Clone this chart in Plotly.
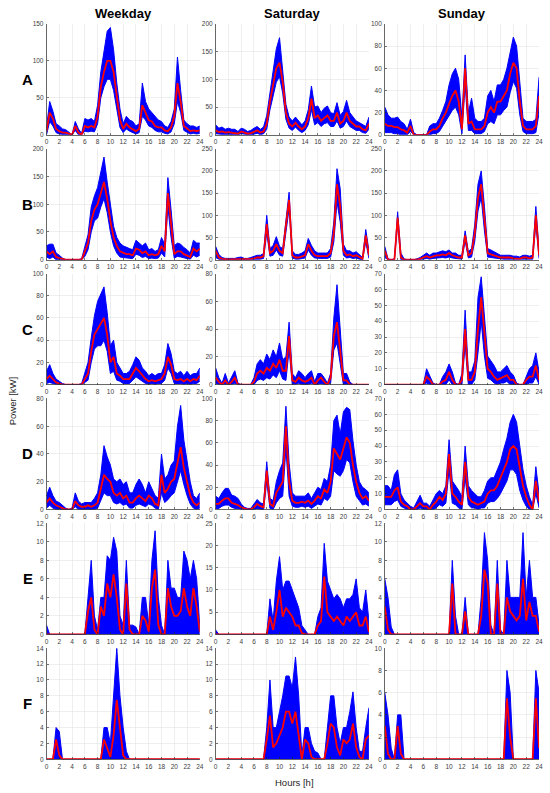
import plotly.graph_objects as go

# ---------------- data ----------------
hours = [0, 0.5, 1, 1.5, 2, 2.5, 3, 3.5, 4, 4.5,
         5, 5.5, 6, 6.5, 7, 7.5, 8, 8.5, 9, 9.5,
         10, 10.5, 11, 11.5, 12, 12.5, 13, 13.5, 14, 14.5,
         15, 15.5, 16, 16.5, 17, 17.5, 18, 18.5, 19, 19.5,
         20, 20.5, 21, 21.5, 22, 22.5, 23, 23.5, 24]
x_ticks = [0, 2, 4, 6, 8, 10, 12, 14, 16, 18, 20, 22, 24]
columns = ["Weekday", "Saturday", "Sunday"]
rows = ["A", "B", "C", "D", "E", "F"]

# ---- A ----
A_wkd_mean = [5,30,22,8,5,3,3,1,0,12, 3,0,12,10,12,10,25,65,85,100, 100,85,50,20,8,15,10,8,5,8, 40,30,20,18,12,10,10,6,5,10, 25,70,45,12,8,5,6,5,6]
A_wkd_up   = [10,45,32,15,12,8,7,3,0,18, 8,2,22,20,22,18,40,85,110,140, 145,115,70,35,15,25,20,18,12,15, 70,45,35,30,25,20,18,12,10,18, 35,105,60,20,15,12,12,10,12]
A_wkd_lo   = [0,18,12,3,1,0,0,0,0,6, 0,0,5,4,5,4,15,50,65,75, 75,60,35,10,3,8,5,3,1,3, 25,20,12,10,6,4,4,2,1,4, 15,45,30,6,3,1,2,1,2]
A_sat_mean = [8,5,6,4,5,4,4,2,6,4, 2,3,5,8,4,6,20,60,90,120, 130,95,40,20,15,22,15,10,15,30, 65,30,35,25,30,35,25,25,40,20, 25,40,25,20,15,15,10,8,20]
A_sat_up   = [18,12,14,10,12,10,10,6,12,10, 6,8,12,15,10,14,35,75,110,155, 175,120,55,32,25,32,25,18,25,45, 88,50,52,40,48,52,40,38,58,35, 42,62,40,32,25,22,18,15,32]
A_sat_lo   = [2,1,1,0,1,0,0,0,2,1, 0,0,1,3,0,2,10,45,70,95, 105,75,28,12,8,14,8,4,8,18, 45,18,22,15,20,22,15,15,25,12, 15,25,15,12,8,8,4,3,10]
A_sun_mean = [10,8,8,7,7,5,4,2,8,0, 0,0,0,0,3,5,5,8,15,20, 28,35,40,30,5,60,10,12,5,5, 5,8,20,25,20,30,30,35,40,55, 65,60,30,8,5,5,5,8,35]
A_sun_up   = [25,18,15,15,16,12,10,5,14,2, 0,0,0,0,8,10,10,15,22,30, 45,55,60,50,15,72,20,33,15,12, 12,15,35,40,30,45,45,50,60,75, 88,80,45,15,12,12,12,14,52]
A_sun_lo   = [2,2,2,1,1,0,0,0,3,0, 0,0,0,0,0,1,1,3,8,12, 18,22,25,18,1,45,4,4,1,1, 1,3,10,12,10,18,18,22,25,38, 48,42,18,3,1,1,1,2,20]
# ---- B ----
B_wkd_mean = [15,10,15,5,3,1,0,0,0,0, 0,0,15,30,70,90,100,120,140,110, 70,40,25,15,12,10,10,8,20,18, 12,15,8,10,8,10,25,15,120,60, 10,15,15,10,8,5,20,15,20]
B_wkd_up   = [25,28,28,12,8,3,0,0,0,0, 0,2,25,45,95,115,130,155,185,140, 100,60,40,30,25,22,20,18,35,30, 25,30,18,20,15,18,40,28,148,90, 25,30,28,22,18,12,35,30,30]
B_wkd_lo   = [5,2,5,0,0,0,0,0,0,0, 0,0,6,18,50,70,75,95,110,85, 50,25,12,5,4,3,3,2,10,8, 4,6,2,3,2,3,12,5,95,40, 3,6,5,3,2,1,8,5,8]
B_sat_mean = [20,5,2,1,1,1,1,1,2,1, 1,2,3,5,5,8,80,15,20,35, 20,15,78,135,10,5,5,8,10,35, 20,10,8,8,8,8,15,60,170,120, 20,10,12,8,10,5,2,55,10]
B_sat_up   = [30,12,5,3,3,3,3,5,6,3, 3,5,8,10,10,14,100,25,32,52, 30,25,88,152,20,12,12,15,20,48, 32,20,15,15,15,15,25,85,205,160, 35,20,20,15,18,12,5,68,20]
B_sat_lo   = [5,1,0,0,0,0,0,0,0,0, 0,0,0,1,1,3,60,8,10,22, 10,8,60,115,4,1,1,3,4,22, 10,4,3,3,3,3,6,40,130,85, 10,4,5,3,4,1,0,40,3]
B_sun_mean = [20,0,0,0,95,5,0,0,0,0, 0,2,5,8,5,8,10,10,12,10, 15,10,8,5,5,55,10,15,60,140, 170,90,15,12,10,8,5,5,5,5, 3,3,2,5,5,3,5,100,10]
B_sun_up   = [30,2,0,2,108,15,2,0,0,0, 2,5,10,15,10,15,15,18,20,18, 22,15,15,10,10,65,18,25,80,170, 200,120,25,22,18,15,10,10,10,10, 8,8,6,10,10,8,10,120,20]
B_sun_lo   = [5,0,0,0,80,0,0,0,0,0, 0,0,1,3,1,3,4,4,5,4, 6,4,3,1,1,42,4,6,42,110, 140,65,6,5,4,3,1,1,1,1, 0,0,0,1,1,0,1,80,3]
# ---- C ----
C_wkd_mean = [5,8,5,2,1,0,0,0,0,0, 0,0,5,10,30,45,50,55,60,45, 20,25,10,8,5,5,5,10,15,12, 8,5,3,4,3,4,5,10,25,18, 5,4,5,3,5,3,5,4,8]
C_wkd_up   = [12,18,10,5,3,1,0,0,0,0, 0,1,10,20,42,62,75,82,88,65, 35,40,20,15,10,10,12,18,25,22, 15,12,8,10,8,10,10,18,37,28, 12,10,12,8,12,8,10,10,15]
C_wkd_lo   = [1,2,1,0,0,0,0,0,0,0, 0,0,2,4,20,32,35,35,40,30, 10,12,4,3,1,1,1,4,7,5, 3,1,0,1,0,1,1,4,15,10, 1,1,1,0,1,0,1,1,3]
C_sat_mean = [5,2,0,3,0,2,5,0,0,0, 0,0,2,8,10,8,12,10,15,12, 18,10,10,35,3,2,5,3,2,3, 5,0,3,5,2,0,5,35,45,25, 3,3,0,0,0,0,0,0,0]
C_sat_up   = [12,5,1,8,1,5,10,1,0,0, 0,0,5,15,18,15,22,18,25,20, 30,18,20,45,8,5,10,8,5,8, 10,2,8,8,5,1,8,48,72,42, 8,8,2,0,0,0,0,0,0]
C_sat_lo   = [1,0,0,0,0,0,1,0,0,0, 0,0,0,3,4,3,5,4,7,5, 10,4,3,25,0,0,1,0,0,0, 1,0,0,1,0,0,1,25,30,15, 0,0,0,0,0,0,0,0,0]
C_sun_mean = [0,0,0,0,0,0,0,0,0,0, 0,0,0,5,3,0,0,0,2,3, 8,3,0,0,3,35,3,3,8,35, 55,30,10,8,5,3,4,5,6,3, 3,0,0,0,3,5,5,12,3]
C_sun_up   = [0,0,0,0,0,0,0,0,0,0, 0,0,0,10,6,1,0,0,5,8, 13,8,1,0,7,47,8,8,15,55, 68,45,18,15,12,8,8,10,12,8, 6,1,0,0,5,10,12,20,8]
C_sun_lo   = [0,0,0,0,0,0,0,0,0,0, 0,0,0,1,0,0,0,0,0,0, 3,0,0,0,0,25,0,0,3,20, 40,18,4,3,1,0,1,1,2,0, 0,0,0,0,0,1,1,5,0]
# ---- D ----
D_wkd_mean = [5,8,5,3,2,1,0,0,0,6, 3,2,2,3,2,3,5,15,25,22, 20,12,10,12,8,10,5,5,8,10, 8,6,10,8,4,3,25,12,15,20, 22,35,45,30,20,10,5,3,5]
D_wkd_up   = [10,16,10,6,5,3,1,0,1,12, 6,4,5,5,5,8,12,25,46,38, 32,22,20,22,18,20,12,12,18,22, 18,12,20,15,10,8,40,22,25,32, 35,60,75,50,35,20,10,8,12]
D_wkd_lo   = [1,3,1,0,0,0,0,0,0,2, 0,0,0,0,0,0,1,7,12,10, 10,5,4,5,3,4,1,1,3,4, 3,2,4,3,1,0,12,5,7,10, 12,20,28,18,10,4,1,0,1]
D_sat_mean = [5,5,8,10,10,6,5,4,2,1, 0,0,2,5,3,2,35,5,3,15, 20,25,75,25,8,6,6,7,6,8, 5,8,12,10,18,15,25,55,50,45, 55,65,60,40,25,15,10,12,8]
D_sat_up   = [12,10,15,19,19,13,12,10,5,2, 1,1,5,9,6,5,43,10,8,25, 35,42,93,42,15,12,12,12,12,15, 10,15,20,18,28,25,40,80,85,68, 88,92,90,62,40,25,20,18,15]
D_sat_lo   = [1,1,3,4,4,2,1,1,0,0, 0,0,0,1,0,0,25,1,0,6, 10,12,55,12,3,2,2,3,2,3, 1,3,5,4,10,8,12,35,32,30, 35,45,42,25,12,8,4,5,3]
D_sun_mean = [8,8,8,12,14,5,3,2,0,0, 2,4,2,2,0,3,5,8,6,10, 35,10,8,5,3,30,8,5,4,3, 4,5,10,12,12,15,20,25,30,38, 40,38,25,15,8,3,0,18,5]
D_sun_up   = [15,15,12,22,25,10,6,4,2,1, 5,9,4,4,2,6,10,12,10,15, 44,18,15,12,8,40,15,12,10,8, 8,12,18,20,20,25,30,38,45,55, 60,55,40,25,15,8,3,27,10]
D_sun_lo   = [3,3,3,5,6,2,1,0,0,0, 0,1,0,0,0,0,1,3,2,4, 25,4,3,1,0,20,3,1,1,0, 1,1,4,5,5,7,10,14,18,25, 25,22,12,6,2,0,0,10,1]
# ---- E (lower envelope is zero) ----
E_wkd_mean = [0,0,0,0,0,0,0,0,0,0, 0,0,0,2.5,4,0.5,0,3,2,5.5, 4,6.5,4,0.5,0,5.5,0.5,0,0,0, 2,1.5,0.3,5,7,1,0,0,5,3, 2,2,2.5,5,3,2,5,3,0.3]
E_wkd_up   = [1,0,0,0,0,0,0,0,0,0, 0,0,0,4,8,2,0.5,4,4,8.5, 8,10.5,9,2,1,8,1,1,0.8,0, 4,4,1,8,11.2,4,1,0,8,5, 5,4,4,9,8,6,8,6,1]
E_sat_mean = [0,0,0,0,0,0,0,0,0,0, 0,0,0,0,0,0,0,4,1,5, 10,4,6,5,4,2,2,0.3,0,0, 0,0,2,3,13,5,4,3,4,3, 2,4,3,4,5,2,2,4,0.5]
E_sat_up   = [1,0,0,0,0,0,0,0,0,0, 0,0,0,0,0,0,0,8,3,12, 17.5,10,12,12,10,8,6,2,1,0, 0,0,4,6,20.5,12,10,8,9,8, 6,8,8,9,12.5,6,5,10,3]
E_sun_mean = [3,0.5,0,0,0,0,0,0,0,0, 0,0,0,0,0,0,0,0,0,0, 0,5.5,0,0,0,2.5,0,0,0,0, 2,7,5.5,0,0,5.5,0,0,4,2.5, 2,1.5,2,6,1.5,3.5,2,2,0.3]
E_sun_up   = [6,4,0.8,0,0,0,0,0,0,0, 0,0,0,0,0,0,0,0,0,0, 0,8,2,0,0,4,0,0,0,0, 4,11,8,1,0,8,0.5,0,8,4, 4,4,4,11,4,8,4,4,1]
# ---- F (lower envelope is zero) ----
F_wkd_mean = [0,0,0,2.5,0.5,0,0,0,0,0, 0,0,0,0,0,0,0,0,2.5,1.5, 0.3,3,7.5,4,0.5,0,0,0,0,0, 0,0,0,0,0,0,0,0,0,0, 0,0,0,0,0,0,0,0,0]
F_wkd_up   = [0,0,0,4,3.5,0,0,0,0,0, 0,0,0,0,0,0,0,0,4,4, 2,8,14,8,4,1,0,0,0,0, 0,0,0,0,0,0,0,0,0,0, 0,0,0,0,0,0,0,0,0]
F_sat_mean = [0,0,0,0,0,0,0,0,0,0, 0,0,0,0,0,0,2.5,5.5,1.5,2, 3,4,6,6,4.5,6,3,0,2.5,2, 0.3,0,0,0,0,2,4.5,4,1.5,0.5, 2.5,2,2.5,4.5,1.5,0.3,0,2.5,3]
F_sat_up   = [0,0,0,0,0,0,0,0,0,0, 0,0,0,0,0,0,4,10,4,4, 6,8,10.5,10.5,9,12.9,8,0.5,4,4, 2,1,0.8,0,0,4,8,8,4,2, 4,4,6,8.5,4,1,1,4,6.5]
F_sun_mean = [3,0.5,0,0,3,0.5,0,0,0,0, 0,0,0,0,0,0,0,0,0,0, 0,0,0,0,0,0,0,0,0,0, 0,0,0,0,0,0,0,0,5.5,2, 0,0,0,0,0,0,0,5.5,1]
F_sun_up   = [6,4,1,0,4,4,0,0,0,0, 0,0,0,0,0,0,0,0,0,0, 0,0,0,0,0,0,0,0,0,0, 0,0,0,0,0,0,0,0,8,6, 0,0,0,0,0,0,0,8,6]

# y-axis ranges and tick steps per panel (row-major)
y_max = [150, 200, 100,
         200, 250, 250,
         100, 80, 70,
         80, 100, 70,
         12, 25, 12,
         14, 14, 10]
y_step = [50, 50, 20,
          50, 50, 50,
          20, 20, 10,
          20, 20, 10,
          2, 5, 2,
          2, 2, 2]

panels = [
    (A_wkd_mean, A_wkd_up, A_wkd_lo), (A_sat_mean, A_sat_up, A_sat_lo), (A_sun_mean, A_sun_up, A_sun_lo),
    (B_wkd_mean, B_wkd_up, B_wkd_lo), (B_sat_mean, B_sat_up, B_sat_lo), (B_sun_mean, B_sun_up, B_sun_lo),
    (C_wkd_mean, C_wkd_up, C_wkd_lo), (C_sat_mean, C_sat_up, C_sat_lo), (C_sun_mean, C_sun_up, C_sun_lo),
    (D_wkd_mean, D_wkd_up, D_wkd_lo), (D_sat_mean, D_sat_up, D_sat_lo), (D_sun_mean, D_sun_up, D_sun_lo),
    (E_wkd_mean, E_wkd_up, None), (E_sat_mean, E_sat_up, None), (E_sun_mean, E_sun_up, None),
    (F_wkd_mean, F_wkd_up, None), (F_sat_mean, F_sat_up, None), (F_sun_mean, F_sun_up, None),
]

for i, (m, u, l) in enumerate(panels):
    assert len(m) == len(hours), (i, "mean", len(m))
    assert len(u) == len(hours), (i, "up", len(u))
    if l is not None:
        assert len(l) == len(hours), (i, "lo", len(l))

# ---------------- layout geometry (window pixels) ----------------
W, H = 550, 793
col_px = [(45, 200), (216, 371), (387, 543)]
row_top = [20, 146, 272, 398, 524, 650]
row_h = 112


def px_x(p):
    return p / W


def px_y(p):
    return 1 - p / H


FONT = "Liberation Sans, Arial, Helvetica, sans-serif"
BLUE = "#0000ff"
RED = "#ff0000"
AX = "#262626"
TICKC = "#404040"

fig = go.Figure()
layout = dict(
    width=W, height=H, margin=dict(l=0, r=0, t=0, b=0),
    paper_bgcolor="white", plot_bgcolor="white", showlegend=False,
    font=dict(family=FONT, size=6.5, color=TICKC),
)

for k, (m, u, l) in enumerate(panels):
    r, c = divmod(k, 3)
    n = k + 1
    xa = "x" if n == 1 else f"x{n}"
    ya = "y" if n == 1 else f"y{n}"
    x0, x1 = col_px[c]
    yt = row_top[r]
    yb = yt + row_h
    common = dict(
        showgrid=True, gridcolor="#e3e3e3", gridwidth=0.6,
        showline=True, linecolor=AX, linewidth=0.7, mirror=False,
        ticks="inside", ticklen=2, tickwidth=0.6, tickcolor=AX,
        zeroline=False, tickfont=dict(size=6.5, color=TICKC), ticklabelstandoff=1,
    )
    layout["xaxis" if n == 1 else f"xaxis{n}"] = dict(
        domain=[px_x(x0), px_x(x1)], anchor=ya, range=[0, 24],
        tickmode="array", tickvals=x_ticks, ticktext=[str(t) for t in x_ticks], **common)
    ym = y_max[k]
    st = y_step[k]
    yvals = list(range(0, ym + 1, st))
    layout["yaxis" if n == 1 else f"yaxis{n}"] = dict(
        domain=[px_y(yb), px_y(yt)], anchor=xa, range=[0, ym],
        tickmode="array", tickvals=yvals, ticktext=[str(v) for v in yvals], **common)
    if l is not None:
        fig.add_trace(go.Scatter(x=hours, y=l, mode="lines", xaxis=xa, yaxis=ya,
                                 line=dict(color=BLUE, width=1), hoverinfo="skip"))
        fig.add_trace(go.Scatter(x=hours, y=u, mode="lines", xaxis=xa, yaxis=ya,
                                 fill="tonexty", fillcolor=BLUE,
                                 line=dict(color=BLUE, width=1), hoverinfo="skip"))
    else:
        fig.add_trace(go.Scatter(x=hours, y=u, mode="lines", xaxis=xa, yaxis=ya,
                                 fill="tozeroy", fillcolor=BLUE,
                                 line=dict(color=BLUE, width=1), hoverinfo="skip"))
    fig.add_trace(go.Scatter(x=hours, y=m, mode="lines", xaxis=xa, yaxis=ya,
                             line=dict(color=RED, width=1.8), hoverinfo="skip"))

annotations = []
for c, name in enumerate(columns):
    x0, x1 = col_px[c]
    annotations.append(dict(text=f"<b>{name}</b>", x=px_x((x0 + x1) / 2), y=px_y(10),
                            xref="paper", yref="paper", showarrow=False,
                            font=dict(family=FONT, size=13, color="black"),
                            xanchor="center", yanchor="middle"))
for r, name in enumerate(rows):
    yc = row_top[r] + row_h / 2
    annotations.append(dict(text=f"<b>{name}</b>", x=px_x(26), y=px_y(yc),
                            xref="paper", yref="paper", showarrow=False,
                            font=dict(family=FONT, size=15, color="black"),
                            xanchor="center", yanchor="middle"))
annotations.append(dict(text="Power [kW]", x=px_x(11), y=px_y(400), xref="paper", yref="paper",
                        showarrow=False, textangle=-90,
                        font=dict(family=FONT, size=9.5, color="#262626"),
                        xanchor="center", yanchor="middle"))
annotations.append(dict(text="Hours [h]", x=px_x(296), y=px_y(785), xref="paper", yref="paper",
                        showarrow=False,
                        font=dict(family=FONT, size=9.5, color="#262626"),
                        xanchor="center", yanchor="middle"))
layout["annotations"] = annotations
fig.update_layout(**layout)

# remove the default page margin so the 550x793 figure fills the window exactly
fig.write_html("out.html",
               config={"displayModeBar": False, "staticPlot": True},
               post_script="document.body.style.margin='0px';document.body.style.overflow='hidden';")
